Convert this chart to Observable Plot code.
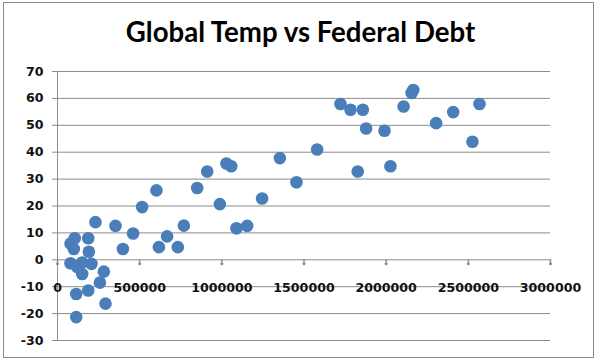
<!DOCTYPE html>
<html><head><meta charset="utf-8">
<script src="https://cdn.jsdelivr.net/npm/d3@7"></script>
<script src="https://cdn.jsdelivr.net/npm/@observablehq/plot@0.6"></script>
<style>
body{margin:0;background:#fff;}
#wrap{position:relative;width:601px;height:362px;overflow:hidden;background:#fff;}
#frame{position:absolute;left:3px;top:2px;width:589px;height:354px;border:1px solid #8a8a8a;}
#title{position:absolute;left:0;top:15px;width:601px;text-align:center;font:bold 27.6px Lato,sans-serif;color:#000;line-height:34px;}
#chart{position:absolute;left:0;top:0;}
</style></head><body>
<div id="wrap"><div id="frame"></div><div id="chart"></div><div id="title">Global Temp vs Federal Debt</div></div>
<script>
const debt = [79000, 105000, 99000, 79000, 120000, 150000, 150000, 187000, 191000, 207000,
  231000, 282000, 258000, 114000, 187000, 292000, 114000, 353000, 398000, 460000,
  515000, 602000, 617000, 667000, 732000, 769000, 850000, 911000, 988000, 1028000,
  1057000, 1089000, 1154000, 1245000, 1353000, 1454000, 1580000, 1722000, 1783000, 1858000,
  1827000, 1878000, 1990000, 2026000, 2106000, 2155000, 2165000, 2304000, 2408000, 2568000,
  2525000];
const temp = [6, 8, 4, -1.3, -2.7, -1, -5.3, 8, 3, -1.5,
  14, -4.4, -8.5, -12.7, -11.4, -16.3, -21.3, 12.6, 4, 9.8,
  19.6, 25.8, 4.7, 8.7, 4.7, 12.7, 26.7, 32.8, 20.7, 35.8,
  34.8, 11.7, 12.6, 22.8, 37.8, 28.8, 41, 57.9, 55.8, 55.8,
  32.8, 48.8, 48, 34.8, 57, 62, 63.1, 50.8, 54.9, 57.9,
  43.9];
const xTicks = [0, 500000, 1000000, 1500000, 2000000, 2500000, 3000000];
const yTicks = [-30, -20, -10, 0, 10, 20, 30, 40, 50, 60, 70];

const data = debt.map((d, i) => ({debt: d, temp: temp[i]}));
const grid = "#8c8c8c";
const chart = Plot.plot({
  width: 601, height: 362,
  marginTop: 71, marginBottom: 22, marginLeft: 57, marginRight: 51,
  x: {domain: [0, 3000000], axis: null},
  y: {domain: [-30, 70]},
  style: {background: "transparent", fontFamily: "'DejaVu Sans', sans-serif", fontSize: "12.6px"},
  marks: [
    Plot.gridY(yTicks, {stroke: grid, strokeOpacity: 1}),
    Plot.ruleX([0], {stroke: grid}),
    Plot.axisY(yTicks, {tickSize: 5, tickPadding: 9, stroke: grid, fill: "#111", fontWeight: "bold", label: null, tickFormat: d => String(d)}),
    Plot.vectorY(xTicks, {x: d => d, y: 0, length: 5, rotate: 180, anchor: "start", stroke: grid}),
    Plot.text(xTicks, {x: d => d, y: 0, dy: 28, text: d => String(d), fontWeight: "bold", fill: "#111"}),
    Plot.dot(data, {x: "debt", y: "temp", r: 6.3, fill: "#4a7ebb", stroke: null})
  ]
});
document.getElementById("chart").appendChild(chart);
</script>
</body></html>
